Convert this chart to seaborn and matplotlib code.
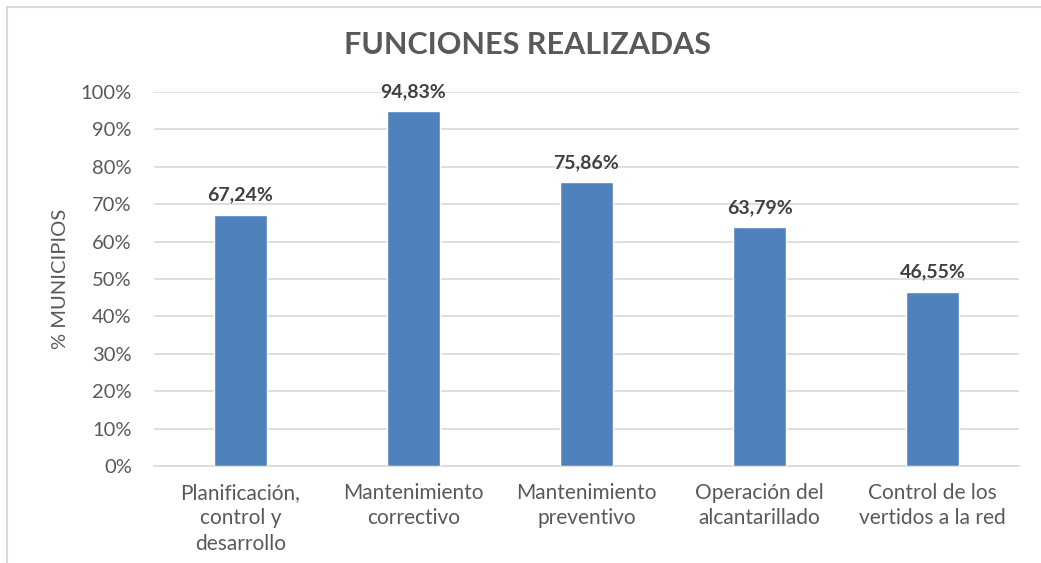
import matplotlib
matplotlib.use('Agg')
import matplotlib.pyplot as plt
import seaborn as sns
import pandas as pd
from matplotlib.patches import Rectangle

categories = ["Planificación,\ncontrol y\ndesarrollo", "Mantenimiento\ncorrectivo",
              "Mantenimiento\npreventivo", "Operación del\nalcantarillado",
              "Control de los\nvertidos a la red"]
values = [67.24, 94.83, 75.86, 63.79, 46.55]
value_labels = ["67,24%", "94,83%", "75,86%", "63,79%", "46,55%"]
yticks = [0, 10, 20, 30, 40, 50, 60, 70, 80, 90, 100]

sns.set_style("white")
plt.rcParams['font.family'] = ['Lato', 'DejaVu Sans']

df = pd.DataFrame({"funcion": categories, "pct": values})

fig = plt.figure(figsize=(10.41, 5.63), dpi=100)
ax = fig.add_axes([154 / 1041, 1 - 466 / 563, 865 / 1041, 374 / 563])

sns.barplot(data=df, x="funcion", y="pct", color="#4F81BD", width=0.31,
            saturation=1, ax=ax, zorder=3)

ax.set_ylim(0, 100)
ax.set_yticks(yticks)
ax.set_yticklabels([f"{t}%" for t in yticks], color="#595959", fontsize=14.5)
ax.set_xlim(-0.5, len(categories) - 0.5)
ax.tick_params(axis="x", colors="#595959", labelsize=15, length=0, pad=12)
ax.tick_params(axis="y", length=0, pad=16)
for lbl in ax.get_xticklabels():
    lbl.set_linespacing(1.35)
ax.grid(axis="y", color="#D9D9D9", linewidth=1.2, zorder=0)
ax.set_axisbelow(True)
for side in ["top", "right", "left"]:
    ax.spines[side].set_visible(False)
ax.spines["bottom"].set_color("#D9D9D9")
ax.spines["bottom"].set_linewidth(1.2)

ax.set_xlabel("")
ax.set_ylabel("% MUNICIPIOS", color="#595959", fontsize=14.5, labelpad=8)

for i, (v, lab) in enumerate(zip(values, value_labels)):
    ax.text(i, v + 3, lab, ha="center", va="bottom", fontsize=14,
            fontweight="bold", color="#404040")

fig.text(528 / 1041, 1 - 45 / 563, "FUNCIONES REALIZADAS", ha="center", va="center",
         fontsize=22, fontweight="bold", color="#595959")

# chart frame (top and left edges visible)
fig.patches.append(Rectangle((7 / 1041, -0.05), 1.1, 1 - 7 / 563 + 0.05,
                             transform=fig.transFigure, fill=False,
                             edgecolor="#D9D9D9", linewidth=1.5))

fig.savefig("out.png", dpi=100)
